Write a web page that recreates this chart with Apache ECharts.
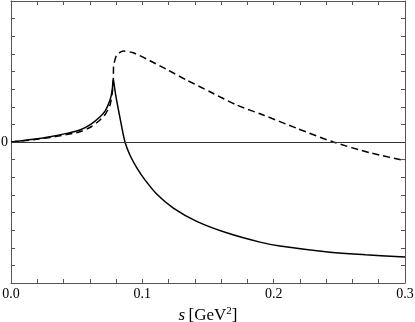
<!DOCTYPE html>
<html>
<head>
<meta charset="utf-8">
<script src="https://cdn.jsdelivr.net/npm/echarts@6/dist/echarts.min.js"></script>
<style>
  html, body { margin: 0; padding: 0; background: #fff; }
  #chart { width: 415px; height: 322px; }
</style>
</head>
<body>
<div id="chart"></div>
<script>
// solid curve
const solidS = [0, 0.017, 0.0297, 0.0424, 0.0525, 0.0607, 0.0678, 0.072, 0.0754, 0.077, 0.0779, 0.079, 0.0804, 0.0838, 0.0868, 0.0906, 0.0957, 0.102, 0.1109, 0.1236, 0.1414, 0.1642, 0.1896, 0.2048, 0.2429, 0.27, 0.3];
const solidV = [0, 0.15, 0.30, 0.49, 0.68, 1.0, 1.43, 1.8, 2.38, 2.9, 3.54, 3.0, 2.38, 1.06, 0, -0.75, -1.45, -2.15, -2.95, -3.75, -4.5, -5.15, -5.68, -5.9, -6.25, -6.4, -6.53];

// dashed curve
const dashS = [0, 0.017, 0.0297, 0.0424, 0.0525, 0.0607, 0.0678, 0.072, 0.0754, 0.077, 0.0779, 0.0781, 0.0795, 0.0804, 0.083, 0.0855, 0.0931, 0.1058, 0.1185, 0.1338, 0.1515, 0.1718, 0.1921, 0.2175, 0.2454, 0.2734, 0.3];
const dashV = [0, 0.13, 0.26, 0.42, 0.58, 0.85, 1.25, 1.6, 2.1, 2.75, 3.5, 4.3, 4.75, 4.9, 5.08, 5.16, 5.06, 4.61, 4.12, 3.51, 2.85, 2.10, 1.53, 0.78, 0, -0.61, -1.06];

const xLabels = ['0.0', '0.1', '0.2', '0.3'];
const yLabels = ['0'];

const font = 'Liberation Serif';
const frame = '#555';

const chart = echarts.init(document.getElementById('chart'));

function xFmt(v) {
  const k = Math.round(v * 10);
  if (Math.abs(v * 10 - k) < 1e-6) return xLabels[k] || '';
  return '';
}

chart.setOption({
  animation: false,
  grid: { left: 11, right: 10, top: 1, bottom: 39, outerBoundsMode: 'none' },
  xAxis: [{
    type: 'value', min: 0, max: 0.3, interval: 0.02,
    axisLine: { onZero: false, lineStyle: { color: frame, width: 1 } },
    axisTick: { inside: true, length: 4, lineStyle: { color: frame } },
    axisLabel: { formatter: xFmt, color: '#000', fontFamily: font, fontSize: 14, margin: 4, showMinLabel: true, showMaxLabel: true },
    splitLine: { show: false },
    name: '{i|s} {n|[GeV}{sup|2}{n|]}',
    nameLocation: 'middle', nameGap: 20,
    nameTextStyle: {
      rich: {
        i: { fontFamily: font, fontStyle: 'italic', fontSize: 17, color: '#000' },
        n: { fontFamily: font, fontSize: 17, color: '#000' },
        sup: { fontFamily: font, fontSize: 11, color: '#000', verticalAlign: 'top', padding: [0, 0, 8, 0] }
      }
    }
  }, {
    type: 'value', min: 0, max: 0.3, interval: 0.02, position: 'top',
    axisLine: { onZero: false, lineStyle: { color: frame, width: 1 } },
    axisTick: { inside: true, length: 4, lineStyle: { color: frame } },
    axisLabel: { show: false }, splitLine: { show: false }
  }],
  yAxis: [{
    type: 'value', min: -8, max: 8, interval: 1,
    axisLine: { show: true, onZero: false, lineStyle: { color: frame, width: 1 } },
    axisTick: { show: true, inside: true, length: 4, lineStyle: { color: frame } },
    axisLabel: { formatter: v => (v === 0 ? yLabels[0] : ''), color: '#000', fontFamily: font, fontSize: 14, margin: 3 },
    splitLine: { show: false }
  }, {
    type: 'value', min: -8, max: 8, interval: 1, position: 'right',
    axisLine: { show: true, onZero: false, lineStyle: { color: frame, width: 1 } },
    axisTick: { show: true, inside: true, length: 4, lineStyle: { color: frame } },
    axisLabel: { show: false }, splitLine: { show: false }
  }],
  series: [{
    type: 'line',
    data: solidS.map((s, i) => [s, solidV[i]]),
    showSymbol: false, smooth: 0.35,
    lineStyle: { color: '#000', width: 1.5 },
    markLine: {
      silent: true, symbol: 'none', label: { show: false },
      lineStyle: { color: '#333', width: 1, type: 'solid' },
      data: [{ yAxis: 0 }]
    }
  }, {
    type: 'line',
    data: dashS.map((s, i) => [s, dashV[i]]),
    showSymbol: false, smooth: 0.25,
    lineStyle: { color: '#000', width: 1.5, type: [7, 4] }
  }]
});
</script>
</body>
</html>
